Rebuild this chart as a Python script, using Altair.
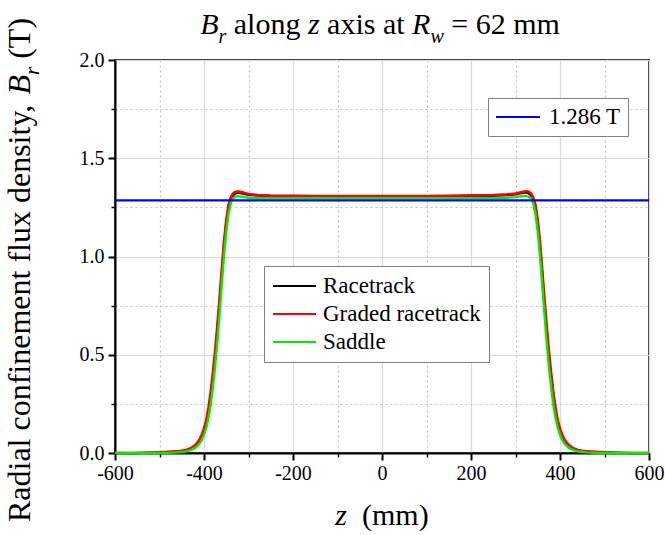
import altair as alt
import pandas as pd

# ---------------- data ----------------
z = [-600, -560, -540, -520, -500, -480, -460, -450, -440, -430, -420, -415, -410, -405,
     -400, -395, -390, -385, -380, -375, -370, -365, -360, -355, -350, -345, -340, -335,
     -330, -325, -320, -310, -300, -280, -250, -200, -150, -100, -50,
     0,
     50, 100, 150, 200, 250, 280, 300, 310, 320, 325, 330, 335, 340, 345, 350, 355, 360,
     365, 370, 375, 380, 385, 390, 395, 400, 405, 410, 415, 420, 430, 440, 450, 460, 480,
     500, 520, 540, 560, 600]

racetrack = [0, 0, 0, 0.001, 0.002, 0.004, 0.007, 0.009, 0.012, 0.02, 0.035, 0.047, 0.06, 0.083,
             0.115, 0.155, 0.215, 0.29, 0.39, 0.5, 0.63, 0.77, 0.92, 1.06, 1.17, 1.25, 1.29, 1.31,
             1.32, 1.324, 1.324, 1.319, 1.314, 1.31, 1.307, 1.306, 1.305, 1.305, 1.305,
             1.305,
             1.305, 1.305, 1.306, 1.307, 1.309, 1.312, 1.316, 1.321, 1.325, 1.325, 1.321, 1.31, 1.29,
             1.25, 1.17, 1.06, 0.92, 0.77, 0.63, 0.5, 0.39, 0.29, 0.215, 0.155, 0.115, 0.083, 0.06,
             0.047, 0.035, 0.02, 0.012, 0.009, 0.007, 0.004, 0.002, 0.001, 0, 0, 0]

graded = [0, 0, 0.001, 0.002, 0.004, 0.006, 0.009, 0.011, 0.015, 0.024, 0.04, 0.053, 0.068, 0.092,
          0.125, 0.165, 0.23, 0.31, 0.41, 0.52, 0.65, 0.79, 0.935, 1.075, 1.185, 1.262, 1.3, 1.32,
          1.329, 1.331, 1.33, 1.324, 1.318, 1.313, 1.31, 1.309, 1.308, 1.308, 1.308,
          1.308,
          1.308, 1.308, 1.309, 1.311, 1.313, 1.316, 1.32, 1.326, 1.331, 1.332, 1.33, 1.32, 1.3,
          1.262, 1.185, 1.075, 0.935, 0.79, 0.65, 0.52, 0.41, 0.31, 0.23, 0.165, 0.125, 0.092, 0.068,
          0.053, 0.04, 0.024, 0.015, 0.011, 0.009, 0.006, 0.004, 0.002, 0.001, 0, 0]

saddle = [0, 0, 0, 0, 0, 0.001, 0.003, 0.005, 0.008, 0.014, 0.026, 0.036, 0.048, 0.066,
          0.093, 0.127, 0.178, 0.245, 0.335, 0.44, 0.565, 0.71, 0.86, 1.005, 1.125, 1.215, 1.27, 1.295,
          1.304, 1.307, 1.306, 1.302, 1.299, 1.298, 1.297, 1.297, 1.297, 1.297, 1.297,
          1.297,
          1.297, 1.297, 1.297, 1.297, 1.298, 1.299, 1.302, 1.306, 1.308, 1.307, 1.304, 1.295, 1.27,
          1.215, 1.125, 1.005, 0.86, 0.71, 0.565, 0.44, 0.335, 0.245, 0.178, 0.127, 0.093, 0.066, 0.048,
          0.036, 0.026, 0.014, 0.008, 0.005, 0.003, 0.001, 0, 0, 0, 0, 0]

series_names = ["Racetrack", "Graded racetrack", "Saddle"]
series_colors = ["#000000", "#ff0000", "#00ee00"]
series_widths = [2.2, 2.6, 2.4]

ref_value = 1.286
ref_label = "1.286 T"
ref_z = [-600, 600]

x_major = [-600, -400, -200, 0, 200, 400, 600]
x_minor = [-500, -300, -100, 100, 300, 500]
y_major = [0, 0.5, 1.0, 1.5, 2.0]
y_minor = [0.25, 0.75, 1.25, 1.75]

rows = []
for name, vals in zip(series_names, [racetrack, graded, saddle]):
    for zz, b in zip(z, vals):
        rows.append({"z": zz, "B": b, "series": name})
df = pd.DataFrame(rows)
ref_df = pd.DataFrame({"z": ref_z, "B": [ref_value] * len(ref_z), "label": [ref_label] * len(ref_z)})

# ---------------- layout ----------------
W, H = 534, 393
FONT = "Liberation Serif"

xscale = alt.Scale(domain=[-600, 600], nice=False, zero=False)
yscale = alt.Scale(domain=[0, 2], nice=False, zero=False)

x_axis_main = alt.Axis(values=x_major, title=None, orient="bottom", grid=True,
                       gridColor="#d9d9d9", gridWidth=1.2, domainColor="black", domainWidth=2,
                       tickColor="black", tickWidth=2, tickSize=7, labelFont=FONT,
                       labelFontSize=20, labelColor="black", labelPadding=3,
                       labelExpr="toString(datum.value)", labelFlush=False, labelOverlap=False)
y_axis_main = alt.Axis(values=y_major, title=None, orient="left", grid=True,
                       gridColor="#d9d9d9", gridWidth=1.2, domainColor="black", domainWidth=2,
                       tickColor="black", tickWidth=2, tickSize=7, labelFont=FONT,
                       labelFontSize=20, labelColor="black", labelPadding=4,
                       labelExpr="format(datum.value, '.1f')", labelOverlap=False)
x_axis_minor = alt.Axis(values=x_minor, title=None, orient="bottom", grid=True,
                        gridColor="#c4c4c4", gridDash=[2, 3], gridWidth=1.2, domain=False,
                        labels=False, tickColor="black", tickWidth=1.5, tickSize=4)
y_axis_minor = alt.Axis(values=y_minor, title=None, orient="left", grid=True,
                        gridColor="#c4c4c4", gridDash=[2, 3], gridWidth=1.2, domain=False,
                        labels=False, tickColor="black", tickWidth=1.5, tickSize=4)

series_legend = alt.Legend(title=None, orient="none", legendX=149, legendY=206,
                           symbolType="stroke", symbolSize=1849, symbolStrokeWidth=2,
                           clipHeight=24, rowPadding=4, labelOffset=6, padding=8,
                           labelFont=FONT, labelFontSize=23, labelColor="black", labelLimit=0,
                           fillColor="white", strokeColor="#808080")
ref_legend = alt.Legend(title=None, orient="none", legendX=373, legendY=38,
                        symbolType="stroke", symbolSize=1936, symbolStrokeWidth=2,
                        clipHeight=24, labelOffset=8, padding=7,
                        labelFont=FONT, labelFontSize=23, labelColor="black", labelLimit=0,
                        fillColor="white", strokeColor="#808080")

color_enc = alt.Color("series:N", scale=alt.Scale(domain=series_names, range=series_colors),
                      legend=series_legend)

layers = []
for i, (name, sw) in enumerate(zip(series_names, series_widths)):
    layers.append(
        alt.Chart(df).transform_filter(alt.datum.series == name)
        .mark_line(strokeWidth=sw)
        .encode(
            x=alt.X("z:Q", scale=xscale, axis=x_axis_main if i == 0 else None),
            y=alt.Y("B:Q", scale=yscale, axis=y_axis_main if i == 0 else None),
            color=color_enc,
            order=alt.Order("z:Q"),
        )
    )

ref_layer = alt.Chart(ref_df).mark_line(strokeWidth=2.2).encode(
    x=alt.X("z:Q", scale=xscale, axis=x_axis_minor),
    y=alt.Y("B:Q", scale=yscale, axis=y_axis_minor),
    stroke=alt.Stroke("label:N", scale=alt.Scale(domain=[ref_label], range=["#0000ff"]),
                      legend=ref_legend),
)
layers.append(ref_layer)

# ---------------- text (title and axis titles with italic parts) ----------------
REG = {' ': 250, '(': 333, ')': 333, ',': 250, '-': 333, '.': 250, '=': 564,
       'B': 667, 'R': 667, 'T': 611, 'a': 444, 'c': 444, 'd': 500, 'e': 444, 'f': 333,
       'i': 278, 'k': 500, 'l': 278, 'm': 778, 'n': 500, 'o': 500, 'g': 500, 'r': 333,
       's': 389, 't': 278, 'u': 500, 'x': 500, 'y': 500, 'z': 444}
for d in "0123456789":
    REG[d] = 500
ITA = {'B': 611, 'R': 611, 'r': 389, 'w': 667, 'z': 389, ' ': 250}

def text_width(s, italic, size):
    table = ITA if italic else REG
    return sum(table.get(c, 500) for c in s) * size / 1000.0

dummy = alt.Data(values=[{"k": 0}])

def piece(s, x, y, size, italic, angle=0):
    return alt.Chart(dummy).mark_text(
        text=s, font=FONT, fontSize=size, fontStyle="italic" if italic else "normal",
        align="left", baseline="alphabetic", color="black", angle=angle,
    ).encode(x=alt.value(x), y=alt.value(y))

def run(pieces, start, fixed, vertical=False):
    out = []
    cursor = 0.0
    for s, italic, size, shift in pieces:
        lead = len(s) - len(s.lstrip())
        off = cursor + lead * 250 * size / 1000.0
        if vertical:
            out.append(piece(s.strip(), fixed + shift, start - off, size, italic, angle=270))
        else:
            out.append(piece(s.strip(), start + off, fixed + shift, size, italic))
        cursor += text_width(s, italic, size)
    return out, cursor

title_pieces = [("B", True, 30, 0), ("r", True, 20, 9), (" along", False, 30, 0),
                (" z", True, 30, 0), (" axis at", False, 30, 0), (" R", True, 30, 0),
                ("w", True, 20, 9), (" = 62 mm", False, 30, 0)]
_, tw = run(title_pieces, 0, 0)
title_layers, _ = run(title_pieces, 265 - tw / 2, -26)

xt_pieces = [("z", True, 30, 0), ("  (mm)", False, 30, 0)]
_, xw = run(xt_pieces, 0, 0)
xt_layers, _ = run(xt_pieces, 267 - xw / 2, 465)

yt_pieces = [("Radial confinement flux density,", False, 32, 0), (" B", True, 32, 0),
             ("r", True, 21, 9), (" (T)", False, 32, 0)]
_, yw = run(yt_pieces, 0, 0, vertical=True)
yt_layers, _ = run(yt_pieces, 210 + yw / 2, -85, vertical=True)

layers += title_layers + xt_layers + yt_layers

chart = alt.layer(*layers).resolve_axis(x="independent", y="independent").properties(
    width=W, height=H,
    autosize=alt.AutoSizeParams(type="none"),
    padding={"left": 115, "top": 60, "right": 16, "bottom": 82},
    background="white",
).configure(font=FONT).configure_axis(
    labelFont=FONT
).configure_legend(
    labelFont=FONT
).configure_view(stroke="#444444", strokeWidth=2)

chart.save("out.html", embed_options={"renderer": "svg", "actions": False})
